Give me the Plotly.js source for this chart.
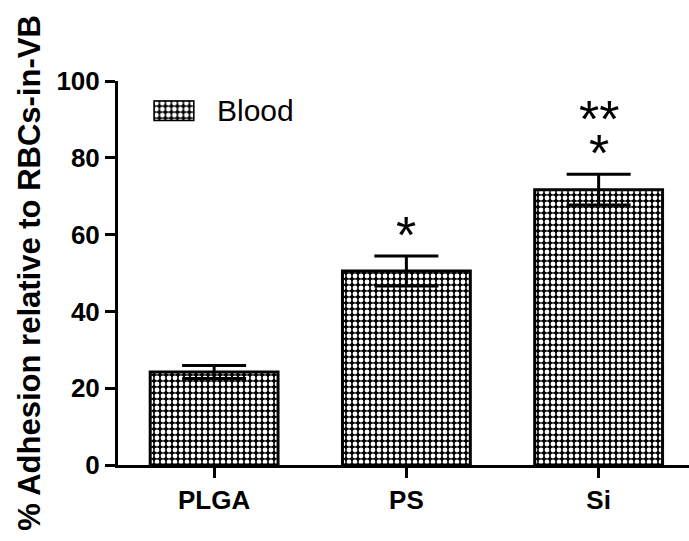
<!DOCTYPE html>
<html><head><meta charset="utf-8">
<script src="https://cdn.plot.ly/plotly-3.0.1.min.js"></script>
<style>html,body{margin:0;padding:0;background:#fff}</style>
</head><body>
<div id="chart" style="width:689px;height:541px"></div>
<script>
// ---- data ----
const categories = ['PLGA', 'PS', 'Si'];
const adhesion = [24.2, 50.5, 71.7];
const sem = [1.7, 3.9, 4.0];
const sigInner = ['', '*', '*'];
const sigOuter = ['', '', '**'];
const seriesName = 'Blood';
const yTickVals = [0, 20, 40, 60, 80, 100];
const swatchValue = [1];

// ---- style ----
const FONT = 'Arial, "Liberation Sans", Helvetica, sans-serif';
const pattern = {shape: '.', size: 6, solidity: 0.5, fgcolor: '#fff', bgcolor: '#000', fillmode: 'replace'};

const bars = {
  type: 'bar', x: categories, y: adhesion, name: seriesName,
  width: 0.665,
  marker: {color: '#000', pattern: pattern, line: {color: '#000', width: 3}},
  error_y: {type: 'data', array: sem, visible: true, color: '#000', thickness: 3, width: 32},
  showlegend: false, hoverinfo: 'skip'
};

const swatch = {
  type: 'bar', x: [seriesName], y: swatchValue, xaxis: 'x2', yaxis: 'y2',
  width: 1,
  marker: {color: '#000', pattern: pattern, line: {color: '#000', width: 3}},
  showlegend: false, hoverinfo: 'skip'
};

const starStyle = {showarrow: false, yanchor: 'middle', height: 30, valign: 'top',
  font: {family: FONT, size: 52, color: '#000'}};
const annotations = [];
categories.forEach((c, i) => {
  if (sigInner[i]) annotations.push(Object.assign({x: c, y: adhesion[i] + sem[i], xref: 'x', yref: 'y',
    text: sigInner[i], yshift: 35}, starStyle));
  if (sigOuter[i]) annotations.push(Object.assign({x: c, y: adhesion[i] + sem[i], xref: 'x', yref: 'y',
    text: sigOuter[i], yshift: 69}, starStyle));
});
annotations.push({x: 0.17, y: 0.922, xref: 'paper', yref: 'paper', text: seriesName, showarrow: false,
  xanchor: 'left', yanchor: 'middle', font: {family: FONT, size: 30, color: '#000'}});

const layout = {
  width: 689, height: 541,
  margin: {l: 118, r: 0, t: 81, b: 76, pad: 0},
  paper_bgcolor: '#fff', plot_bgcolor: '#fff',
  font: {family: FONT, color: '#000'},
  xaxis: {
    type: 'category', range: [-0.5, 2.47], showline: true, linecolor: '#000', linewidth: 3,
    ticks: 'outside', ticklen: 10, tickwidth: 3, tickcolor: '#000', showgrid: false, zeroline: false,
    tickfont: {family: FONT, size: 26, color: '#000', weight: 'bold'}, fixedrange: true
  },
  yaxis: {
    range: [0, 100], tickvals: yTickVals, showline: true, linecolor: '#000', linewidth: 3,
    ticks: 'outside', ticklen: 10, tickwidth: 3, tickcolor: '#000', showgrid: false, zeroline: false,
    tickfont: {family: FONT, size: 26, color: '#000', weight: 'bold'},
    title: {text: '% Adhesion relative to RBCs-in-VB', font: {family: FONT, size: 31, color: '#000', weight: 'bold'}, standoff: 7},
    fixedrange: true
  },
  xaxis2: {domain: [0.062, 0.134], anchor: 'y2', visible: false, range: [-0.5, 0.5], type: 'category', fixedrange: true},
  yaxis2: {domain: [0.895, 0.950], anchor: 'x2', visible: false, range: [0, 1], fixedrange: true},
  annotations: annotations,
  showlegend: false
};

Plotly.newPlot('chart', [bars, swatch], layout, {displayModeBar: false, staticPlot: true});
</script>
</body></html>
